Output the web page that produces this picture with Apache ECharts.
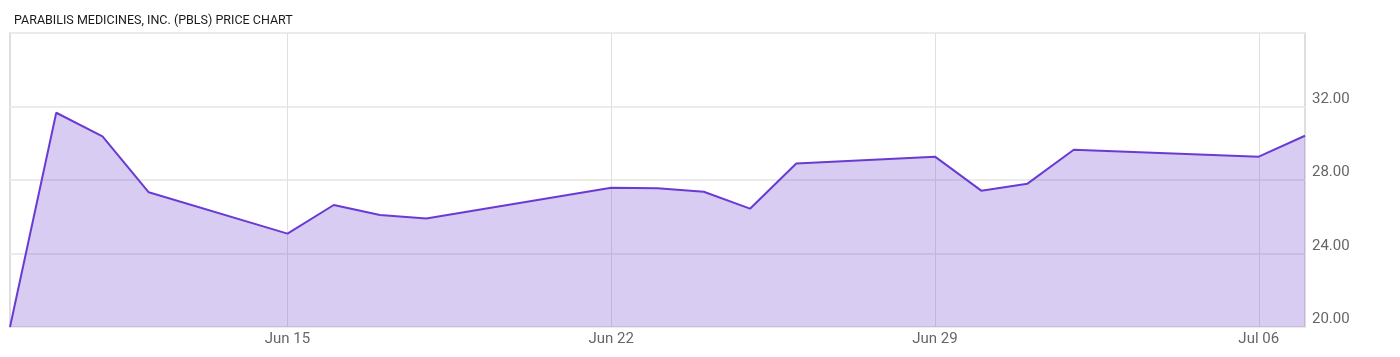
<!DOCTYPE html>
<html>
<head>
	<meta charset="UTF-8">
	<title>PBLS price chart</title>
	<script src="https://cdn.jsdelivr.net/npm/echarts@6/dist/echarts.min.js"></script>
	<style>
		html, body { margin: 0; padding: 0; background: #fff; }
	</style>
</head>
<body>
	<div id="main" style="width: 1400px;height:357px;"></div>
	<script type="text/javascript">
		// trading days and closing prices
		var tradeDates = ['2020-06-09', '2020-06-10', '2020-06-11', '2020-06-12',
			'2020-06-15', '2020-06-16', '2020-06-17', '2020-06-18',
			'2020-06-22', '2020-06-23', '2020-06-24', '2020-06-25', '2020-06-26',
			'2020-06-29', '2020-06-30', '2020-07-01', '2020-07-02',
			'2020-07-06', '2020-07-07'];
		var prices = [20.00, 31.66, 30.37, 27.33,
			25.08, 26.64, 26.10, 25.90,
			27.58, 27.55, 27.36, 26.44, 28.90,
			29.27, 27.42, 27.80, 29.65,
			29.27, 30.41];
		var tickDays = ['Jun 15', 'Jun 22', 'Jun 29', 'Jul 06'];
		var yTicks = [20, 24, 28, 32, 36];

		var months = ['Jan', 'Feb', 'Mar', 'Apr', 'May', 'Jun', 'Jul', 'Aug', 'Sep', 'Oct', 'Nov', 'Dec'];
		function fmt(d) {
			var dd = d.getUTCDate();
			return months[d.getUTCMonth()] + ' ' + (dd < 10 ? '0' + dd : dd);
		}

		// calendar days between first and last trade, gaps left empty
		var days = [], values = [];
		var t0 = Date.parse(tradeDates[0] + 'T00:00:00Z');
		var t1 = Date.parse(tradeDates[tradeDates.length - 1] + 'T00:00:00Z');
		for (var t = t0; t <= t1; t += 86400000) {
			var d = new Date(t);
			days.push(fmt(d));
			var i = tradeDates.indexOf(d.toISOString().slice(0, 10));
			values.push(i >= 0 ? prices[i] : null);
		}

		var isTick = function(idx, val) {
			return tickDays.indexOf(val) >= 0;
		};

		var myChart = echarts.init(document.getElementById('main'));
		myChart.setOption({
			backgroundColor: '#fff',
			animation: false,
			title: {
				text: 'PARABILIS MEDICINES, INC. (PBLS) PRICE CHART',
				left: 9,
				top: 9,
				textStyle: {
					color: '#1a1a1a',
					fontSize: 12.5,
					fontWeight: 'normal',
					fontFamily: 'Roboto'
				}
			},
			grid: {
				left: 10,
				right: 95,
				top: 33,
				bottom: 30,
				show: true,
				borderColor: '#dedede',
				borderWidth: 2
			},
			xAxis: {
				type: 'category',
				boundaryGap: false,
				data: days,
				axisLine: { show: false },
				axisTick: { show: false },
				axisLabel: {
					interval: isTick,
					color: '#666',
					fontSize: 15,
					margin: 5,
					fontFamily: 'Roboto'
				},
				splitLine: {
					show: true,
					interval: isTick,
					lineStyle: { color: '#e0e0e0', width: 1 }
				}
			},
			yAxis: {
				type: 'value',
				position: 'right',
				min: yTicks[0],
				max: yTicks[yTicks.length - 1],
				interval: yTicks[1] - yTicks[0],
				axisLine: { show: false },
				axisTick: { show: false },
				axisLabel: {
					color: '#666',
					fontSize: 15,
					margin: 7,
					verticalAlign: 'bottom',
					showMaxLabel: false,
					fontFamily: 'Roboto',
					formatter: function(v) { return v.toFixed(2); }
				},
				splitLine: {
					lineStyle: { color: '#ebebeb', width: 2 }
				}
			},
			series: [{
				type: 'line',
				data: values,
				connectNulls: true,
				symbol: 'none',
				lineStyle: { color: '#6a3bd3', width: 2 },
				areaStyle: { color: 'rgba(112,66,212,0.27)', opacity: 1 }
			}]
		});
	</script>
</body>
</html>
